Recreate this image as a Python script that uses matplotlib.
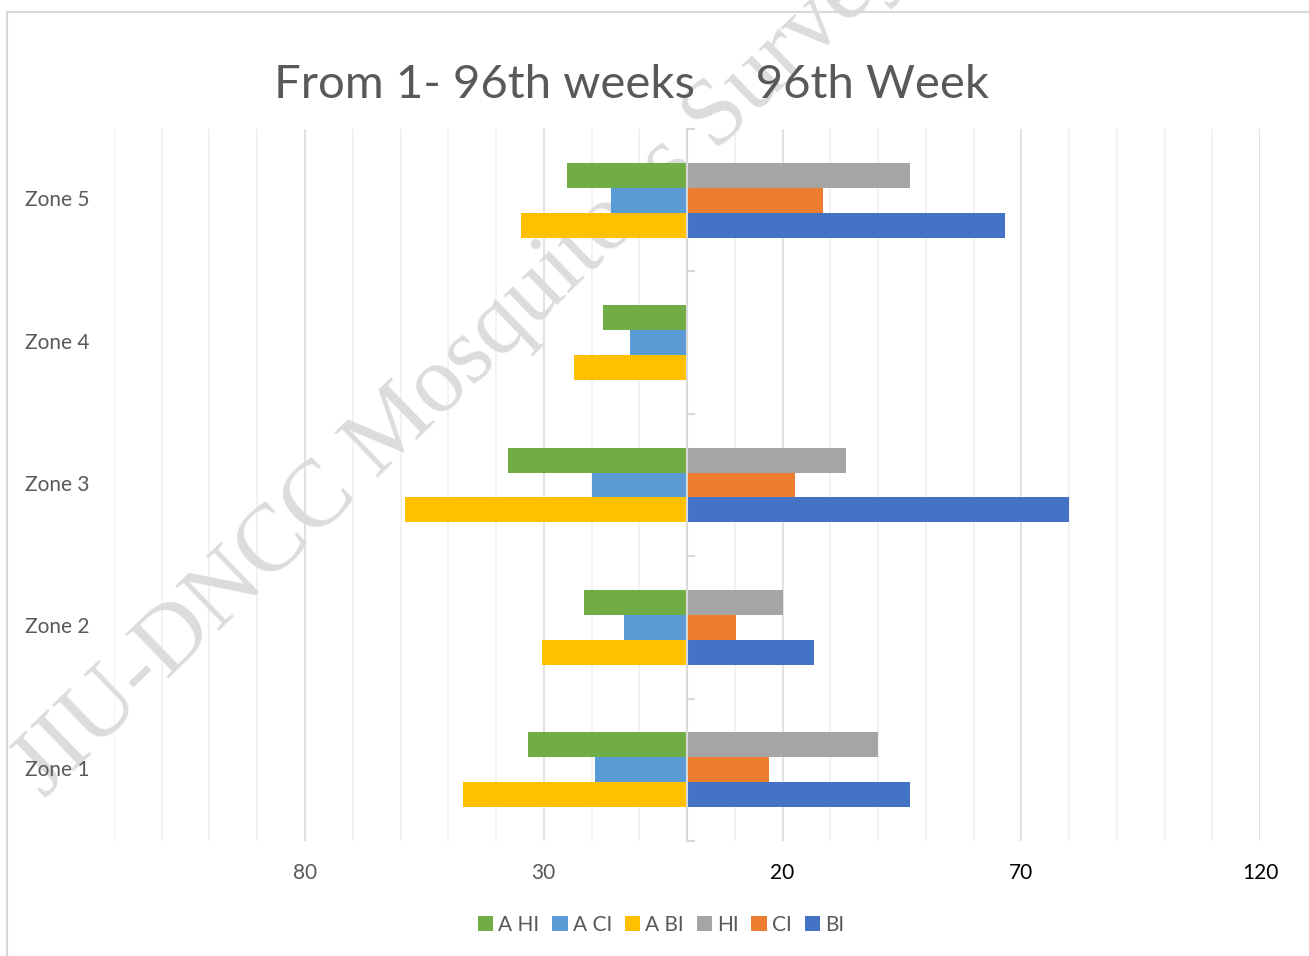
import numpy as np
import matplotlib
matplotlib.use('Agg')
import matplotlib.pyplot as plt
from matplotlib.patches import Rectangle
from matplotlib.ticker import MultipleLocator, FixedLocator
import matplotlib.transforms as mtransforms

plt.rcParams['font.family'] = ['Lato', 'DejaVu Sans']

# data
zones = ['Zone 1', 'Zone 2', 'Zone 3', 'Zone 4', 'Zone 5']
a_hi = [33.2, 21.5, 37.5, 17.6, 25.2]
a_ci = [19.3, 13.2, 20.0, 11.9, 16.0]
a_bi = [47.0, 30.3, 59.0, 23.6, 34.7]
hi = [40.0, 20.0, 33.3, 0, 46.6]
ci = [17.1, 10.2, 22.6, 0, 28.5]
bi = [46.6, 26.6, 80.0, 0, 66.6]

x_ticks = [-80, -30, 20, 70, 120]
x_labels = ['80', '30', '20', '70', '120']
title = 'From 1- 96th weeks     96th Week'
watermark = 'JIU-DNCC Mosquitoes Survey'

W, H = 1309, 956
fig = plt.figure(figsize=(W / 100, H / 100), dpi=100)
ax = fig.add_axes([114 / W, 1 - 841 / H, 1146 / W, 712 / H])

y = np.arange(len(zones))
bh = 0.175
grey_txt = '#595959'

# left side (negative), right side (positive)
b_ahi = ax.barh(y + bh, [-v for v in a_hi], height=bh, color='#70AD47', label='A HI', zorder=2)
b_aci = ax.barh(y, [-v for v in a_ci], height=bh, color='#5B9BD5', label='A CI', zorder=2)
b_abi = ax.barh(y - bh, [-v for v in a_bi], height=bh, color='#FFC000', label='A BI', zorder=2)
b_hi = ax.barh(y + bh, hi, height=bh, color='#A5A5A5', label='HI', zorder=2)
b_ci = ax.barh(y, ci, height=bh, color='#ED7D31', label='CI', zorder=2)
b_bi = ax.barh(y - bh, bi, height=bh, color='#4472C4', label='BI', zorder=2)

ax.set_xlim(-120, 120)
ax.set_ylim(-0.5, len(zones) - 0.5)

# gridlines: minor every 10, major every 50
ax.xaxis.set_major_locator(FixedLocator(x_ticks))
ax.xaxis.set_minor_locator(MultipleLocator(10))
ax.set_xticklabels(x_labels)
ax.grid(True, axis='x', which='minor', color='#efefef', lw=1.1)
ax.grid(True, axis='x', which='major', color='#d9d9d9', lw=1.1)
ax.set_axisbelow(True)
ax.tick_params(axis='x', which='both', length=0, pad=16, labelsize=15)
for lab, v in zip(ax.get_xticklabels(), x_ticks):
    lab.set_color(grey_txt if v < 0 else 'black')

# category axis sits at x = 0
for s in ['top', 'right', 'bottom']:
    ax.spines[s].set_visible(False)
ax.spines['left'].set_position(('data', 0))
ax.spines['left'].set_color('#d9d9d9')
ax.spines['left'].set_linewidth(1.5)
ax.spines['left'].set_zorder(3)
ax.yaxis.set_major_locator(FixedLocator(y))
ax.yaxis.set_minor_locator(FixedLocator(np.arange(len(zones) + 1) - 0.5))
ax.tick_params(axis='y', which='major', length=0, labelleft=False)
ax.tick_params(axis='y', which='minor', direction='in', length=6, width=1.5, color='#d9d9d9')

trans = mtransforms.blended_transform_factory(ax.transAxes, ax.transData)
for yi, name in zip(y, zones):
    ax.text(-0.0777, yi, name, transform=trans, ha='left', va='center', fontsize=15, color=grey_txt)

# watermark behind the bars
ax.text(45 / W, 1 - 800 / H, watermark, transform=fig.transFigure, rotation=44,
        rotation_mode='anchor', ha='left', va='baseline', fontsize=69,
        family='Liberation Serif', color='#dcdcdc', zorder=1, clip_on=False)

fig.text(632 / W, 1 - 85 / H, title, ha='center', va='center', fontsize=34,
         color=grey_txt)

handles = [b_ahi, b_aci, b_abi, b_hi, b_ci, b_bi]
leg = fig.legend(handles=handles, labels=['A HI', 'A CI', 'A BI', 'HI', 'CI', 'BI'],
                 loc='center', bbox_to_anchor=(661 / W, 1 - 925 / H), ncol=6, frameon=False,
                 fontsize=15, handlelength=0.75, handleheight=0.75, handletextpad=0.25,
                 columnspacing=0.6)
for t in leg.get_texts():
    t.set_color(grey_txt)

# chart border
fig.add_artist(Rectangle((7 / W, -0.1), 1.2, 1.1 - 12 / H, transform=fig.transFigure,
                         fill=False, ec='#d9d9d9', lw=1.5))

fig.savefig('out.png', dpi=100)
